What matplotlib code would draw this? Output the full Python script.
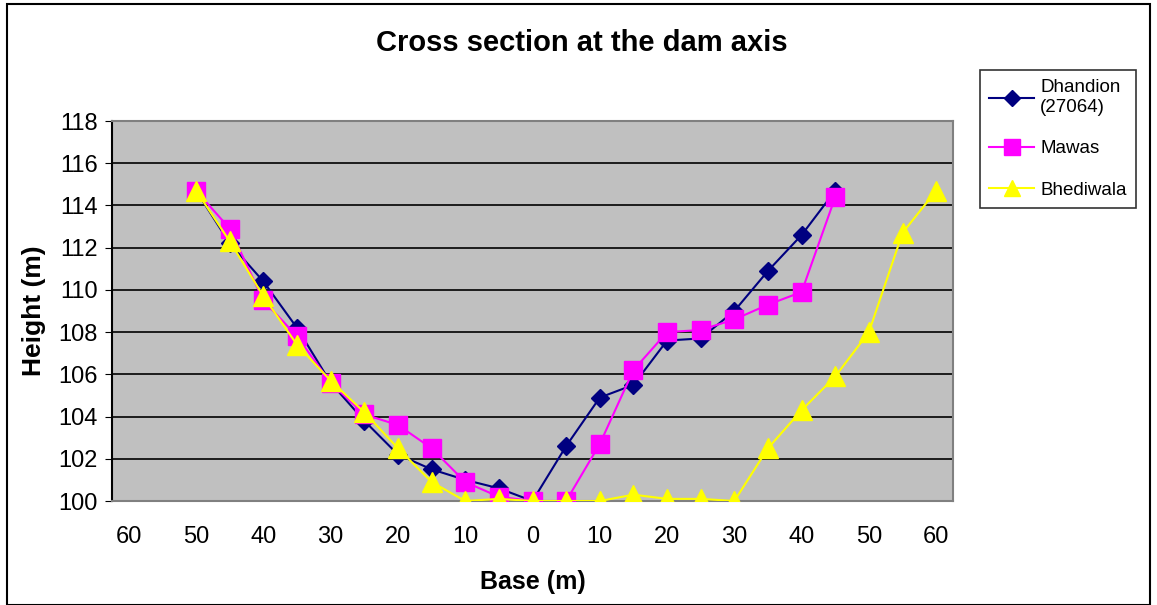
import matplotlib.pyplot as plt
from matplotlib.patches import Rectangle

plt.rcParams['font.family'] = ['Liberation Sans', 'DejaVu Sans']

# base positions (m), left bank negative, right bank positive
base_dh = [-50, -45, -40, -35, -30, -25, -20, -15, -10, -5, 0,
           5, 10, 15, 20, 25, 30, 35, 40, 45]
height_dh = [114.7, 112.2, 110.4, 108.2, 105.6, 103.8, 102.2, 101.5, 101.0, 100.6, 100.0,
             102.6, 104.9, 105.5, 107.6, 107.7, 109.0, 110.9, 112.6, 114.7]

base_mw = [-50, -45, -40, -35, -30, -25, -20, -15, -10, -5, 0,
           5, 10, 15, 20, 25, 30, 35, 40, 45]
height_mw = [114.7, 112.9, 109.5, 107.8, 105.6, 104.1, 103.6, 102.5, 100.9, 100.2, 100.0,
             100.0, 102.7, 106.2, 108.0, 108.1, 108.6, 109.3, 109.9, 114.4]

base_bh = [-50, -45, -40, -35, -30, -25, -20, -15, -10, -5, 0,
           5, 10, 15, 20, 25, 30, 35, 40, 45, 50, 55, 60]
height_bh = [114.7, 112.3, 109.7, 107.4, 105.7, 104.2, 102.5, 100.9, 100.0, 100.1, 100.0,
             100.0, 100.0, 100.3, 100.1, 100.1, 100.0, 102.5, 104.3, 105.9, 108.0, 112.7, 114.7]

xtick_pos = list(range(-60, 61, 10))
xtick_lab = [str(abs(v)) for v in xtick_pos]

fig = plt.figure(figsize=(11.57, 6.05), dpi=100)
ax = fig.add_axes([112/1157, 1-501/605, 841/1157, 380/605])
ax.set_facecolor('#C0C0C0')

ax.plot(base_dh, height_dh, color='#000080', marker='D', markersize=9, linewidth=1.5,
        label='Dhandion\n(27064)', zorder=3)
ax.plot(base_mw, height_mw, color='#FF00FF', marker='s', markersize=13, linewidth=1.5,
        label='Mawas', zorder=4)
ax.plot(base_bh, height_bh, color='#FFFF00', marker='^', markersize=14, linewidth=1.5,
        label='Bhediwala', zorder=5)

ax.set_xlim(-62.5, 62.5)
ax.set_ylim(100, 118)
ax.set_yticks(range(100, 119, 2))
ax.set_xticks(xtick_pos)
ax.set_xticklabels(xtick_lab)
ax.tick_params(axis='y', labelsize=17, length=5, direction='out', color='black', pad=5)
ax.tick_params(axis='x', labelsize=17, length=0, pad=18)
ax.grid(axis='y', color='black', linewidth=1.2)
ax.set_axisbelow(True)
for s in ['top', 'right', 'bottom']:
    ax.spines[s].set_color('#808080')
    ax.spines[s].set_linewidth(1.5)
ax.spines['left'].set_color('black')
ax.spines['left'].set_linewidth(1.5)

ax.set_xlabel('Base (m)', fontsize=18, fontweight='bold', labelpad=16)
ax.set_ylabel('Height (m)', fontsize=19, fontweight='bold', labelpad=9)
fig.text(582/1157, 1-43/605, 'Cross section at the dam axis', fontsize=21,
         fontweight='bold', ha='center', va='center')

leg = ax.legend(loc='upper left', bbox_to_anchor=(980/1157, 1-70/605),
                bbox_transform=fig.transFigure, fontsize=13.5, frameon=True,
                fancybox=False, edgecolor='black', handlelength=2.4,
                labelspacing=1.3, borderpad=0.5, handletextpad=0.3,
                borderaxespad=0, markerscale=0.85)
leg.get_frame().set_linewidth(1.2)

# outer chart border
fig.patches.append(Rectangle((7/1157, 0), 1-14/1157, 1-4/605, transform=fig.transFigure,
                             fill=False, edgecolor='black', linewidth=1.5))

fig.savefig('out.png', dpi=100)
